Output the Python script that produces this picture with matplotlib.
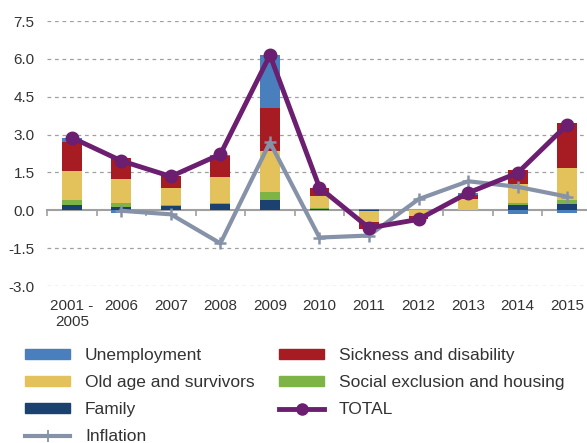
import matplotlib.pyplot as plt
import numpy as np
from matplotlib.lines import Line2D
from matplotlib.patches import Patch

plt.rcParams['font.family'] = ['Liberation Sans', 'DejaVu Sans']

years = ['2001 -\n2005', '2006', '2007', '2008', '2009', '2010', '2011',
         '2012', '2013', '2014', '2015']
family = [0.22, 0.12, 0.17, 0.24, 0.42, 0.05, -0.02, 0.0, 0.0, 0.20, 0.26]
social = [0.20, 0.15, 0.03, 0.03, 0.29, 0.04, 0.0, 0.0, 0.0, 0.09, 0.15]
old_age = [1.15, 0.97, 0.69, 1.04, 1.64, 0.48, -0.46, -0.21, 0.44, 0.74, 1.27]
sickness = [1.15, 0.83, 0.48, 0.83, 1.72, 0.30, -0.28, -0.15, 0.17, 0.57, 1.79]
unemployment = [0.13, -0.10, 0.0, 0.07, 2.08, 0.0, 0.04, 0.0, 0.08, -0.13, -0.12]
total = [2.88, 1.96, 1.34, 2.22, 6.15, 0.90, -0.70, -0.36, 0.69, 1.48, 3.39]
inflation = [np.nan, -0.02, -0.16, -1.31, 2.69, -1.08, -1.00, 0.44, 1.15, 0.93, 0.54]

series = [('Family', family, '#1b4171'),
          ('Social exclusion and housing', social, '#7db445'),
          ('Old age and survivors', old_age, '#e3c15b'),
          ('Sickness and disability', sickness, '#a61c22'),
          ('Unemployment', unemployment, '#4a7fbe')]
c_total = '#6c1e70'
c_infl = '#8692a8'
txt = '#333333'

fig = plt.figure(figsize=(5.87, 4.43), dpi=100)
ax = fig.add_axes([47 / 587, 1 - 286 / 443, 1 - 47 / 587, (286 - 21) / 443])

x = np.arange(len(years))
pos = np.zeros(len(years))
neg = np.zeros(len(years))
for name, vals, col in series:
    v = np.array(vals)
    base = np.where(v >= 0, pos, neg)
    ax.bar(x, v, 0.4, bottom=base, color=col, zorder=2)
    pos = pos + np.clip(v, 0, None)
    neg = neg + np.clip(v, None, 0)

ax.plot(x, inflation, color=c_infl, lw=3, marker='+', ms=9, mew=1.8, zorder=3)
ax.plot(x, total, color=c_total, lw=3.5, marker='o', ms=9, zorder=4)

ymin, ymax = -3.0, 7.5
ax.set_ylim(ymin, ymax)
ax.set_xlim(-0.5, 10.4)
yt = np.arange(-3.0, 7.6, 1.5)
ax.set_yticks(yt)
ax.set_yticklabels(['%.1f' % t for t in yt])
for t in yt:
    if t != 0:
        ax.axhline(t, color='#a0a0a0', lw=0.9, ls=(0, (3, 3)), zorder=1)
ax.set_xticks(x)
ax.set_xticklabels(years)
ax.tick_params(axis='both', length=0, labelsize=11, colors=txt, pad=9)
for s in ax.spines.values():
    s.set_visible(False)

# zero line with category dividers
sec = ax.secondary_xaxis((0 - ymin) / (ymax - ymin))
sec.set_xticks(np.arange(-0.5, 10.5, 1.0))
sec.set_xticklabels([])
sec.tick_params(length=4, width=1.2, color='#a0a0a0', direction='out')
sec.spines['bottom'].set_color('#a0a0a0')
sec.spines['bottom'].set_linewidth(1.5)

h_unemp = Patch(color='#4a7fbe')
h_old = Patch(color='#e3c15b')
h_fam = Patch(color='#1b4171')
h_inf = Line2D([], [], color=c_infl, lw=3, marker='+', ms=8, mew=1.3)
h_sick = Patch(color='#a61c22')
h_soc = Patch(color='#7db445')
h_tot = Line2D([], [], color=c_total, lw=3.5, marker='o', ms=8)

kw = dict(loc='upper left', frameon=False, fontsize=12.5, borderaxespad=0,
          borderpad=0, handlelength=2.6, handleheight=0.55, handletextpad=0.85,
          labelspacing=0.7, labelcolor=txt)
leg1 = fig.legend([h_unemp, h_old, h_fam, h_inf],
                  ['Unemployment', 'Old age and survivors', 'Family', 'Inflation'],
                  bbox_to_anchor=(25 / 587, 1 - 348 / 443), **kw)
leg2 = fig.legend([h_sick, h_soc, h_tot],
                  ['Sickness and disability', 'Social exclusion and housing', 'TOTAL'],
                  bbox_to_anchor=(279 / 587, 1 - 348 / 443), **kw)

fig.savefig('out.png', dpi=100)
